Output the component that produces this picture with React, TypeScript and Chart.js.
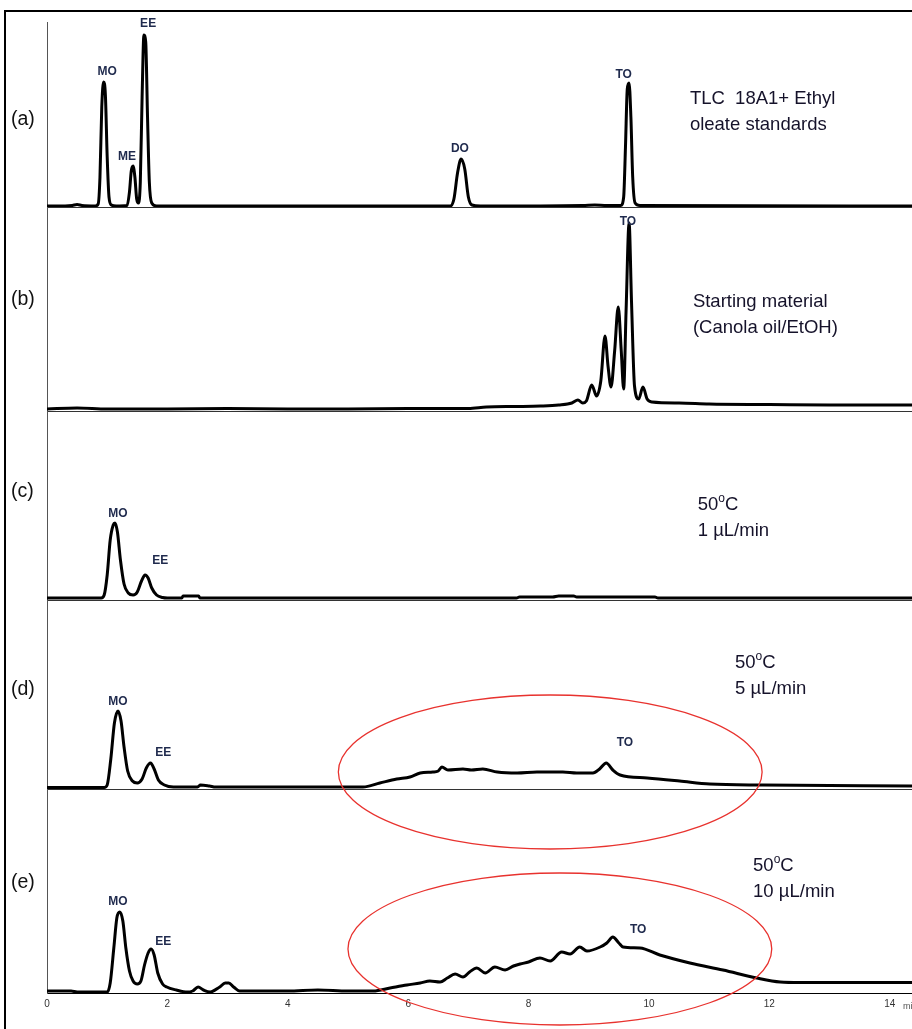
import React, { useEffect, useRef } from 'react';
import { Chart, registerables } from 'chart.js';

Chart.register(...registerables);

type Pt = [number, number];

// x axis (retention time, min)
const timeTicks = [0, 2, 4, 6, 8, 10, 12, 14];
const timeMax = 14.37;

// detector range (arbitrary units) of each stacked panel
const panelRanges = [185, 204, 189, 189, 204];
const panelTags = ['(a)', '(b)', '(c)', '(d)', '(e)'];

// (a) TLC 18A1 + ethyl oleate standards
const traceA: Pt[] = [
  [0, 1], [0.3, 1], [0.42, 1.5], [0.5, 2.5], [0.58, 1.5], [0.8, 1], [0.85, 3], [0.88, 30], [0.91, 100],
  [0.94, 125], [0.97, 112], [1.0, 50], [1.03, 10], [1.07, 2], [1.15, 1], [1.33, 1.5], [1.37, 15],
  [1.4, 36], [1.43, 41], [1.46, 30], [1.49, 8], [1.52, 4], [1.55, 25], [1.58, 110], [1.61, 172],
  [1.64, 165], [1.67, 90], [1.7, 25], [1.74, 4], [1.82, 1], [3.0, 1], [5.0, 1], [6.7, 1], [6.76, 8],
  [6.82, 34], [6.88, 48], [6.94, 38], [7.0, 10], [7.06, 2], [7.2, 1], [8.9, 1.5], [9.1, 2], [9.3, 1.5],
  [9.53, 1.5], [9.58, 10], [9.61, 60], [9.64, 118], [9.67, 124], [9.7, 90], [9.73, 30], [9.77, 4],
  [9.85, 1.5], [14.37, 1],
];

// (b) starting material (canola oil / EtOH)
const traceB: Pt[] = [
  [0, 2], [0.5, 3], [1.0, 2], [2.0, 2], [3.0, 2.5], [4.0, 2], [5.0, 2], [6.0, 2.5], [7.0, 2.5], [7.3, 4],
  [7.8, 4.5], [8.2, 5], [8.5, 6], [8.72, 8], [8.82, 11], [8.9, 8], [8.96, 10], [9.05, 26], [9.13, 15],
  [9.2, 30], [9.27, 75], [9.32, 45], [9.37, 24], [9.43, 60], [9.49, 104], [9.54, 60], [9.58, 22],
  [9.62, 100], [9.67, 188], [9.71, 110], [9.76, 25], [9.83, 12], [9.9, 24], [9.97, 12], [10.05, 9],
  [10.5, 8], [11.0, 7], [12.0, 6.5], [13.0, 6], [14.37, 6],
];

// (c) 50 °C, 1 µL/min
const traceC: Pt[] = [
  [0, 2], [0.9, 2], [0.95, 5], [1.0, 25], [1.05, 60], [1.1, 75], [1.13, 77], [1.17, 68], [1.22, 40],
  [1.28, 16], [1.35, 7], [1.43, 5], [1.5, 8], [1.57, 19], [1.63, 25], [1.68, 22], [1.74, 12], [1.82, 5],
  [1.92, 2.5], [2.0, 2], [2.24, 2], [2.26, 4], [2.52, 4], [2.54, 2], [7.8, 2], [7.85, 3], [8.4, 3],
  [8.5, 4], [8.75, 4], [8.8, 3], [10.1, 3], [10.15, 2], [14.37, 2],
];

// (d) 50 °C, 5 µL/min
const traceD: Pt[] = [
  [0, 1.5], [0.95, 1.5], [1.0, 4], [1.06, 30], [1.12, 66], [1.18, 78], [1.23, 68], [1.28, 42], [1.34, 18],
  [1.42, 8], [1.5, 6], [1.58, 10], [1.65, 21], [1.72, 26], [1.78, 20], [1.85, 9], [1.95, 4], [2.1, 2],
  [2.5, 2], [2.55, 4], [2.7, 3], [2.8, 2], [4.0, 2], [5.25, 2], [5.53, 6], [5.81, 10], [6.03, 12],
  [6.2, 16], [6.41, 17], [6.5, 18], [6.56, 22], [6.66, 19], [6.91, 20], [7.05, 19], [7.24, 20],
  [7.48, 17], [7.81, 16], [8.14, 17], [8.57, 17], [8.8, 16], [9.07, 16], [9.18, 20], [9.29, 26],
  [9.4, 19], [9.52, 14], [9.97, 11], [10.51, 8], [11.01, 5], [11.89, 4], [14.37, 3],
];

// (e) 50 °C, 10 µL/min
const traceE: Pt[] = [
  [0, 2], [0.4, 2], [0.5, 1], [1.0, 1], [1.05, 10], [1.11, 45], [1.16, 75], [1.21, 81], [1.26, 72],
  [1.31, 45], [1.37, 22], [1.43, 12], [1.5, 9], [1.56, 12], [1.62, 28], [1.68, 40], [1.73, 44],
  [1.78, 38], [1.84, 20], [1.92, 9], [1.99, 6], [2.15, 3], [2.33, 1], [2.42, 2], [2.51, 6], [2.6, 3],
  [2.71, 1], [2.87, 6], [2.96, 10], [3.02, 10], [3.1, 6], [3.2, 2], [3.5, 2], [4.0, 2], [4.5, 3],
  [5.0, 2], [5.42, 2], [5.7, 5], [5.98, 8], [6.2, 10], [6.36, 12], [6.53, 11], [6.65, 15], [6.78, 19],
  [6.91, 16], [7.02, 21], [7.14, 25], [7.28, 20], [7.44, 26], [7.61, 23], [7.75, 27], [7.86, 29],
  [8.0, 31], [8.19, 35], [8.36, 32], [8.55, 41], [8.69, 39], [8.85, 46], [8.97, 42], [9.19, 46],
  [9.3, 50], [9.4, 56], [9.5, 50], [9.57, 46], [9.85, 45], [10.18, 38], [10.68, 30], [11.23, 23],
  [11.79, 15], [12.18, 11], [12.51, 10.5], [14.37, 10.5],
];

const traces = [traceA, traceB, traceC, traceD, traceE];

// peak names: [panel, time, level, text]
const peakLabels: [number, number, number, string][] = [
  [0, 1.0, 135, 'MO'], [0, 1.33, 50, 'ME'], [0, 1.68, 183, 'EE'], [0, 6.86, 58, 'DO'], [0, 9.58, 132, 'TO'],
  [1, 9.65, 189, 'TO'],
  [2, 1.18, 86, 'MO'], [2, 1.88, 39, 'EE'],
  [3, 1.18, 87, 'MO'], [3, 1.93, 36, 'EE'], [3, 9.6, 46, 'TO'],
  [4, 1.18, 91, 'MO'], [4, 1.93, 51, 'EE'], [4, 9.82, 63, 'TO'],
];

// sample descriptions: [panel, time, level, lines]
const descriptions: [number, number, number, string[]][] = [
  [0, 10.68, 108, ['TLC  18A1+ Ethyl', 'oleate standards']],
  [1, 10.73, 109, ['Starting material', '(Canola oil/EtOH)']],
  [2, 10.81, 95, ['50^{o}C', '1 µL/min']],
  [3, 11.43, 126, ['50^{o}C', '5 µL/min']],
  [4, 11.73, 127, ['50^{o}C', '10 µL/min']],
];

// highlighted regions: [panel, centre time, centre level, half-width (min), half-height]
const highlights: [number, number, number, number, number][] = [
  [3, 8.36, 17, 3.52, 77],
  [4, 8.52, 44, 3.52, 76],
];

const tagLevels = [87, 111, 108, 99, 110];

const FONT = '"Liberation Sans", Arial, sans-serif';
const yId = (i: number) => 'y' + i;

const overlay = {
  id: 'overlay',
  afterDraw(chart: any) {
    const ctx = chart.ctx as CanvasRenderingContext2D;
    const xs = chart.scales.x;
    const area = chart.chartArea;
    ctx.save();
    // outer frame
    ctx.strokeStyle = '#000';
    ctx.lineWidth = 2;
    ctx.strokeRect(5, 11, chart.width + 20, chart.height + 20);

    // panel tags
    ctx.font = '19.5px ' + FONT;
    ctx.fillStyle = '#111';
    ctx.textBaseline = 'middle';
    ctx.textAlign = 'left';
    panelTags.forEach((tag, i) => {
      const ys = chart.scales[yId(i)];
      ctx.fillText(tag, area.left - 36, ys.getPixelForValue(tagLevels[i]));
    });

    // peak names
    ctx.font = 'bold 12px ' + FONT;
    ctx.fillStyle = '#1f2a4d';
    ctx.textAlign = 'center';
    peakLabels.forEach(([p, t, v, txt]) => {
      const ys = chart.scales[yId(p)];
      ctx.fillText(txt, xs.getPixelForValue(t), ys.getPixelForValue(v));
    });

    // descriptions
    ctx.textAlign = 'left';
    ctx.fillStyle = '#15122a';
    descriptions.forEach(([p, t, v, lines]) => {
      const ys = chart.scales[yId(p)];
      let y = ys.getPixelForValue(v);
      const x0 = xs.getPixelForValue(t);
      lines.forEach((line) => {
        let x = x0;
        const parts = line.split(/(\^\{[^}]*\})/).filter((s) => s.length);
        parts.forEach((part) => {
          if (part.startsWith('^{')) {
            const s = part.slice(2, -1);
            ctx.font = '12px ' + FONT;
            ctx.fillText(s, x, y - 6);
            x += ctx.measureText(s).width;
          } else {
            ctx.font = '18.5px ' + FONT;
            ctx.fillText(part, x, y);
            x += ctx.measureText(part).width;
          }
        });
        y += 26;
      });
    });

    // highlight ellipses
    ctx.strokeStyle = '#e8322e';
    ctx.lineWidth = 1.3;
    highlights.forEach(([p, t, v, rx, ry]) => {
      const ys = chart.scales[yId(p)];
      const cx = xs.getPixelForValue(t);
      const cy = ys.getPixelForValue(v);
      const rxp = Math.abs(xs.getPixelForValue(t + rx) - cx);
      const ryp = Math.abs(ys.getPixelForValue(v + ry) - cy);
      ctx.beginPath();
      ctx.ellipse(cx, cy, rxp, ryp, 0, 0, Math.PI * 2);
      ctx.stroke();
    });

    // unit
    ctx.font = '9px ' + FONT;
    ctx.fillStyle = '#555';
    ctx.textAlign = 'left';
    ctx.textBaseline = 'middle';
    ctx.fillText('min', xs.getPixelForValue(14.22), area.bottom + 14);
    ctx.restore();
  },
};

export default function App() {
  const ref = useRef<HTMLCanvasElement | null>(null);
  useEffect(() => {
    if (!ref.current) return;
    const scales: any = {
      x: {
        type: 'linear',
        position: 'bottom',
        min: 0,
        max: timeMax,
        afterBuildTicks: (s: any) => {
          s.ticks = timeTicks.map((v) => ({ value: v }));
        },
        afterFit: (s: any) => {
          s.height = 36;
        },
        ticks: {
          font: { size: 10, family: FONT },
          color: '#333',
          padding: 5,
          maxRotation: 0,
          autoSkip: false,
          callback: (v: any) => String(v),
        },
        grid: { display: false, drawTicks: false },
        border: { display: true, color: '#000', width: 1 },
      },
    };
    panelRanges.forEach((r, i) => {
      scales[yId(i)] = {
        type: 'linear',
        position: 'left',
        stack: 'panels',
        stackWeight: r,
        weight: panelRanges.length - i,
        min: 0,
        max: r,
        afterFit: (s: any) => {
          s.width = 0;
        },
        ticks: { display: false },
        grid: {
          drawTicks: false,
          lineWidth: 1,
          color: (c: any) => (c.tick && c.tick.value === 0 ? '#333' : 'rgba(0,0,0,0)'),
        },
        border: { display: true, color: '#555', width: 1 },
      };
    });
    const chart = new Chart(ref.current, {
      type: 'line',
      data: {
        datasets: traces.map((tr, i) => ({
          label: panelTags[i],
          data: tr.map(([x, y]) => ({ x, y })),
          xAxisID: 'x',
          yAxisID: yId(i),
          borderColor: '#000',
          borderWidth: 3,
          pointRadius: 0,
          fill: false,
          cubicInterpolationMode: 'monotone',
        })),
      },
      options: {
        animation: false,
        responsive: false,
        events: [],
        layout: { padding: { left: 47, top: 22, right: 0, bottom: 0 } },
        plugins: { legend: { display: false }, tooltip: { enabled: false } },
        scales,
      } as any,
      plugins: [overlay],
    });
    return () => chart.destroy();
  }, []);
  return (
    <div style={{ position: 'fixed', left: 0, top: 0, width: 912, height: 1029, background: '#fff' }}>
      <canvas ref={ref} width={912} height={1029} style={{ display: 'block' }} />
    </div>
  );
}
